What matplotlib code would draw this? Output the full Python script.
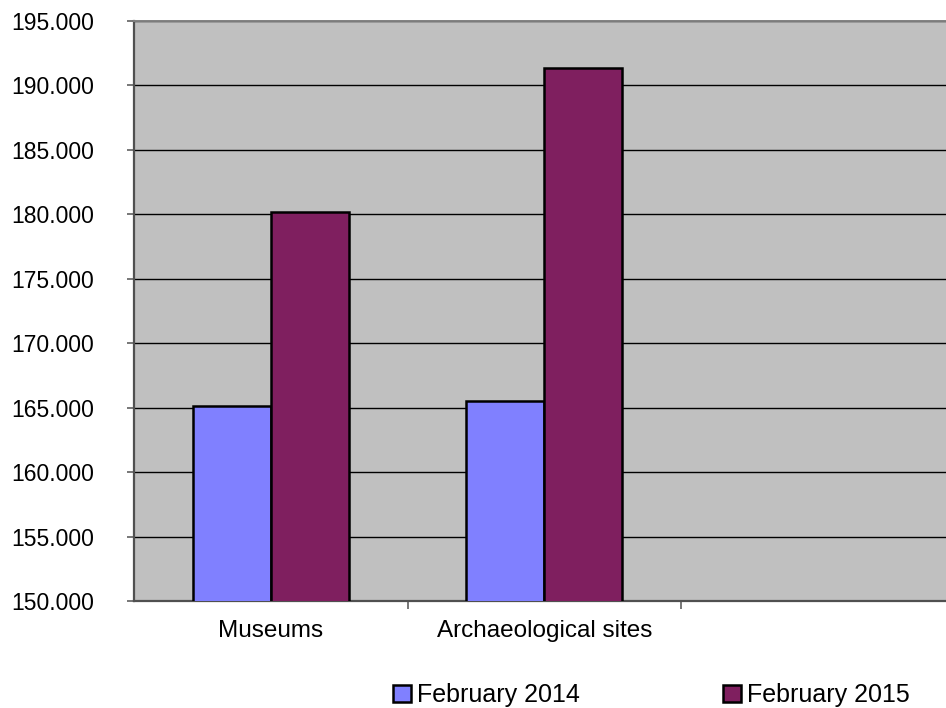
import numpy as np
import matplotlib
matplotlib.use("Agg")
import matplotlib.pyplot as plt
from matplotlib.ticker import FuncFormatter, FixedLocator

plt.rcParams['font.family'] = ['Liberation Sans', 'DejaVu Sans']

# data
categories = ["Museums", "Archaeological sites", ""]
feb_2014 = [165130, 165500, np.nan]
feb_2015 = [180210, 191370, np.nan]
series_names = ["February 2014", "February 2015"]
colors = ["#8080FF", "#7F1F5F"]

fig = plt.figure(figsize=(9.46, 7.08), dpi=100)
W, H = 946, 708
ax = fig.add_axes([134 / W, (H - 601) / H, 820.5 / W, 580 / H])
ax.set_facecolor("#C0C0C0")

x = np.arange(len(categories))
bw = 0.285
ax.bar(x - bw / 2, feb_2014, bw, color=colors[0], edgecolor="black", linewidth=1.8,
       label=series_names[0], zorder=3)
ax.bar(x + bw / 2, feb_2015, bw, color=colors[1], edgecolor="black", linewidth=1.8,
       label=series_names[1], zorder=3)

ax.set_ylim(150000, 195000)
ax.set_xlim(-0.5, len(categories) - 0.5)
ax.set_yticks(np.arange(150000, 195001, 5000))
ax.yaxis.set_major_formatter(FuncFormatter(lambda v, p: f"{int(v):,}".replace(",", ".")))
ax.grid(axis="y", color="black", linewidth=1.0, zorder=1)
ax.set_axisbelow(True)

# category boundaries as major ticks, names at the centres
ax.xaxis.set_major_locator(FixedLocator(x[:-1] + 0.5))
ax.xaxis.set_major_formatter(FuncFormatter(lambda v, p: ""))
ax.xaxis.set_minor_locator(FixedLocator(x))
ax.set_xticklabels(categories, minor=True)
ax.tick_params(axis="x", which="major", length=6, width=1.2, color="#606060", direction="out")
ax.tick_params(axis="x", which="minor", length=0, pad=14, labelsize=17.5)
ax.tick_params(axis="y", length=5, width=1.2, color="#606060", labelsize=16.5, pad=23.5)

for s in ["left", "bottom"]:
    ax.spines[s].set_color("#505050")
    ax.spines[s].set_linewidth(1.6)
ax.spines["top"].set_color("#808080")
ax.spines["top"].set_linewidth(1.4)
ax.spines["right"].set_visible(False)

fig.legend(loc="center left", bbox_to_anchor=(393 / W, (H - 695) / H), ncol=2,
           frameon=False, fontsize=18, handlelength=0.72, handleheight=0.7,
           handletextpad=0.25, columnspacing=5.72, borderpad=0, borderaxespad=0)

fig.savefig("out.png", dpi=100)
